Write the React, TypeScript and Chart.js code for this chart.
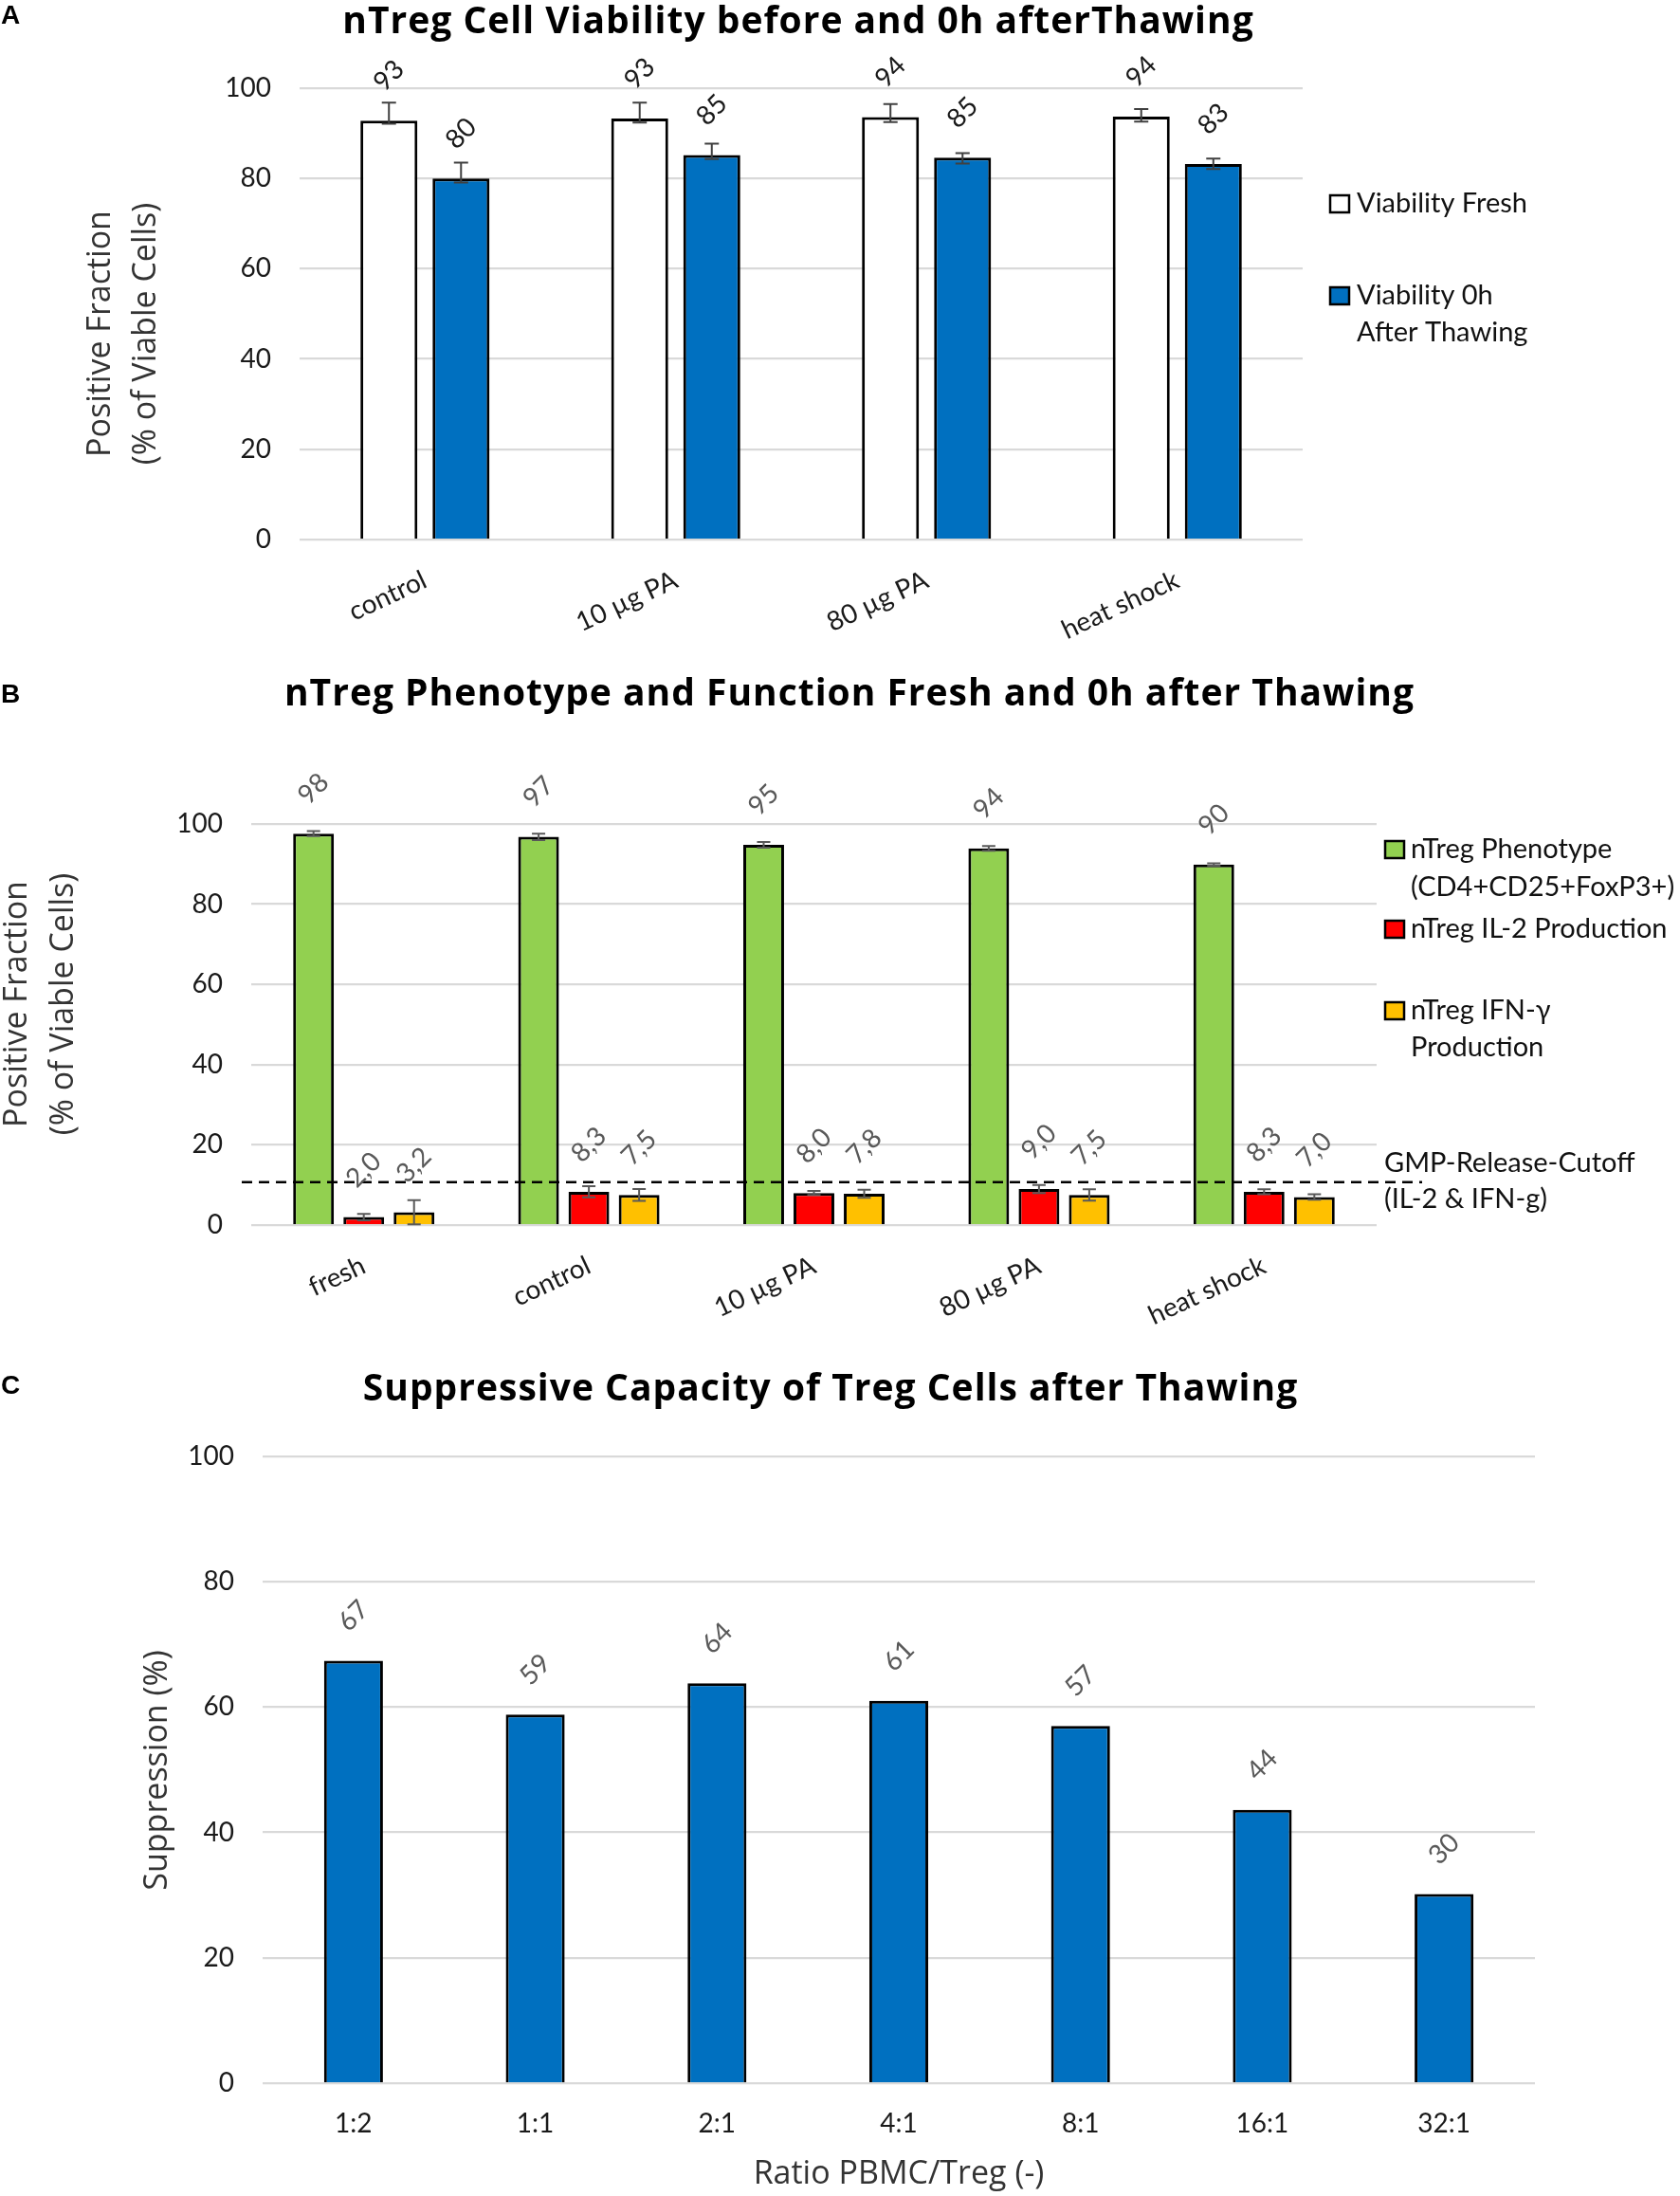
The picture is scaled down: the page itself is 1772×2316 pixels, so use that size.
import React, { useEffect, useRef } from "react";
import { Chart, registerables } from "chart.js";
Chart.register(...registerables);

// ---------- Panel A data ----------
const catsA = ["control", "10 µg PA", "80 µg PA", "heat shock"];
const freshA = [92.8, 93.3, 93.6, 93.7];
const freshErrUpA = [4.0, 3.5, 2.9, 1.7];
const freshErrDnA = [0.7, 0.9, 1.1, 1.1];
const thawA = [80.0, 85.2, 84.6, 83.2];
const thawErrUpA = [3.5, 2.5, 1.0, 1.2];
const thawErrDnA = [0.9, 0.9, 1.3, 1.1];

// ---------- Panel B data ----------
const catsB = ["fresh", "control", "10 µg PA", "80 µg PA", "heat shock"];
const phenoB = [97.6, 96.8, 94.8, 93.9, 89.9];
const phenoErrB = [0.6, 0.8, 0.7, 0.6, 0.3];
const il2B = [2.0, 8.3, 8.0, 9.0, 8.3];
const il2ErrB = [0.8, 1.4, 0.5, 1.0, 0.6];
const ifnB = [3.2, 7.5, 7.8, 7.5, 7.0];
const ifnErrB = [3.0, 1.5, 1.0, 1.4, 0.7];
const cutoffB = 10.7;

// ---------- Panel C data ----------
const catsC = ["1:2", "1:1", "2:1", "4:1", "8:1", "16:1", "32:1"];
const suppC = [67.4, 58.8, 63.8, 61.0, 57.0, 43.6, 30.2];

const yTicks = [0, 20, 40, 60, 80, 100];

const TICK_FONT = "Lato";
const TITLE_FONT = "'Open Sans'";
const BLUE = "#0070C0";

function makeErrorBars(color: string, width: number, cap: number) {
  return {
    id: "errBars",
    afterDatasetsDraw(chart: any) {
      const ctx = chart.ctx;
      const ys = chart.scales.y;
      chart.data.datasets.forEach((ds: any, i: number) => {
        if (!ds.errUp) return;
        const meta = chart.getDatasetMeta(i);
        meta.data.forEach((el: any, j: number) => {
          const v = ds.data[j];
          const yT = ys.getPixelForValue(v + ds.errUp[j]);
          const yB = ys.getPixelForValue(v - ds.errDn[j]);
          ctx.save();
          ctx.strokeStyle = color;
          ctx.lineWidth = width;
          ctx.beginPath();
          ctx.moveTo(el.x, yT);
          ctx.lineTo(el.x, yB);
          ctx.moveTo(el.x - cap, yT);
          ctx.lineTo(el.x + cap, yT);
          ctx.moveTo(el.x - cap, yB);
          ctx.lineTo(el.x + cap, yB);
          ctx.stroke();
          ctx.restore();
        });
      });
    },
  };
}

function makeLabels(color: string, size: number, gap: number) {
  return {
    id: "valLabels",
    afterDatasetsDraw(chart: any) {
      const ctx = chart.ctx;
      chart.data.datasets.forEach((ds: any, i: number) => {
        const meta = chart.getDatasetMeta(i);
        const dec = ds.decimals || 0;
        meta.data.forEach((el: any, j: number) => {
          const text = Number(ds.data[j]).toFixed(dec).replace(".", ",");
          ctx.save();
          ctx.font = `${size}px ${TICK_FONT}`;
          const w = ctx.measureText(text).width;
          const boxH = (w + size * 1.2) / Math.SQRT2;
          ctx.translate(el.x, el.y - gap - boxH / 2);
          ctx.rotate(-Math.PI / 4);
          ctx.fillStyle = color;
          ctx.textAlign = "center";
          ctx.textBaseline = "middle";
          ctx.fillText(text, 0, 0);
          ctx.restore();
        });
      });
    },
  };
}

function vText(ctx: any, text: string, x: number, y: number, font: string, color: string) {
  ctx.save();
  ctx.translate(x, y);
  ctx.rotate(-Math.PI / 2);
  ctx.font = font;
  ctx.fillStyle = color;
  ctx.textAlign = "center";
  ctx.textBaseline = "middle";
  ctx.fillText(text, 0, 0);
  ctx.restore();
}

function hText(ctx: any, text: string, x: number, y: number, font: string, color: string, align = "left") {
  ctx.save();
  ctx.font = font;
  ctx.fillStyle = color;
  ctx.textAlign = align;
  ctx.textBaseline = "middle";
  ctx.fillText(text, x, y);
  ctx.restore();
}

function legBox(ctx: any, x: number, yMid: number, color: string) {
  ctx.save();
  ctx.fillStyle = color;
  ctx.fillRect(x, yMid - 9, 20, 18);
  ctx.strokeStyle = "#000";
  ctx.lineWidth = 2.5;
  ctx.strokeRect(x, yMid - 9, 20, 18);
  ctx.restore();
}

function scalesFor(cats: any, opts: any) {
  return {
    x: {
      type: "category",
      grid: { display: false, drawTicks: false },
      border: { display: false },
      ticks: {
        color: "#1a1a1a",
        font: { family: TICK_FONT, size: opts.xSize },
        minRotation: opts.rot,
        maxRotation: opts.rot,
        autoSkip: false,
        padding: opts.xPad,
      },
      afterFit(s: any) {
        s.height = opts.xH;
      },
    },
    y: {
      min: 0,
      max: 100,
      grid: { color: "#D9D9D9", lineWidth: 2.2, drawTicks: false },
      border: { display: false },
      afterBuildTicks(s: any) {
        s.ticks = yTicks.map((v) => ({ value: v }));
      },
      ticks: {
        color: "#1a1a1a",
        font: { family: TICK_FONT, size: 28 },
        padding: 30,
      },
      afterFit(s: any) {
        s.width = opts.yW;
      },
    },
  };
}

function ChartCanvas({ top, height, config }: any) {
  const ref = useRef<HTMLCanvasElement>(null);
  useEffect(() => {
    const chart = new Chart(ref.current as any, config);
    return () => chart.destroy();
  }, []);
  return (
    <canvas
      ref={ref}
      width={1772}
      height={height}
      style={{ position: "absolute", left: 0, top, width: 1772, height }}
    />
  );
}

const axisTitleFont = `34px ${TITLE_FONT}`;
const legendFont = `29px ${TICK_FONT}`;

const configA: any = {
  type: "bar",
  data: {
    labels: catsA,
    datasets: [
      {
        label: "Viability Fresh",
        data: freshA,
        errUp: freshErrUpA,
        errDn: freshErrDnA,
        backgroundColor: "#FFFFFF",
        borderColor: "#000",
        borderWidth: 3,
      },
      {
        label: "Viability 0h After Thawing",
        data: thawA,
        errUp: thawErrUpA,
        errDn: thawErrDnA,
        backgroundColor: BLUE,
        borderColor: "#000",
        borderWidth: 3,
      },
    ],
  },
  options: {
    responsive: false,
    animation: false,
    categoryPercentage: 0.575,
    barPercentage: 0.79,
    layout: { padding: { left: 0, right: 398, top: 93, bottom: 0 } },
    plugins: { legend: { display: false }, tooltip: { enabled: false } },
    scales: scalesFor(catsA, { xSize: 28, rot: 25, xPad: 26, xH: 111, yW: 316 }),
  },
  plugins: [
    makeErrorBars("#404040", 2, 7.5),
    makeLabels("#1a1a1a", 28, 24),
    {
      id: "decorA",
      afterDraw(chart: any) {
        const ctx = chart.ctx;
        vText(ctx, "Positive Fraction", 106, 352, axisTitleFont, "#333");
        vText(ctx, "(% of Viable Cells)", 154, 352, axisTitleFont, "#333");
        legBox(ctx, 1403, 215, "#FFFFFF");
        hText(ctx, "Viability Fresh", 1431, 215, legendFont, "#111");
        legBox(ctx, 1403, 312, BLUE);
        hText(ctx, "Viability 0h", 1431, 312, legendFont, "#111");
        hText(ctx, "After Thawing", 1431, 351, legendFont, "#111");
      },
    },
  ],
};

const configB: any = {
  type: "bar",
  data: {
    labels: catsB,
    datasets: [
      {
        label: "nTreg Phenotype (CD4+CD25+FoxP3+)",
        data: phenoB,
        errUp: phenoErrB,
        errDn: phenoErrB,
        decimals: 0,
        backgroundColor: "#92D050",
        borderColor: "#000",
        borderWidth: 3,
      },
      {
        label: "nTreg IL-2 Production",
        data: il2B,
        errUp: il2ErrB,
        errDn: il2ErrB,
        decimals: 1,
        backgroundColor: "#FF0000",
        borderColor: "#000",
        borderWidth: 3,
      },
      {
        label: "nTreg IFN-γ Production",
        data: ifnB,
        errUp: ifnErrB,
        errDn: ifnErrB,
        decimals: 1,
        backgroundColor: "#FFC000",
        borderColor: "#000",
        borderWidth: 3,
      },
    ],
  },
  options: {
    responsive: false,
    animation: false,
    categoryPercentage: 0.67,
    barPercentage: 0.81,
    layout: { padding: { left: 0, right: 320, top: 189, bottom: 0 } },
    plugins: { legend: { display: false }, tooltip: { enabled: false } },
    scales: scalesFor(catsB, { xSize: 28, rot: 25, xPad: 26, xH: 128, yW: 265 }),
  },
  plugins: [
    {
      id: "cutoff",
      afterDatasetsDraw(chart: any) {
        const ctx = chart.ctx;
        const y = chart.scales.y.getPixelForValue(cutoffB);
        ctx.save();
        ctx.strokeStyle = "#000";
        ctx.lineWidth = 2.5;
        ctx.setLineDash([11, 7]);
        ctx.beginPath();
        ctx.moveTo(chart.chartArea.left - 10, y);
        ctx.lineTo(chart.chartArea.right + 48, y);
        ctx.stroke();
        ctx.restore();
      },
    },
    makeErrorBars("#595959", 2, 7),
    makeLabels("#595959", 28, 24),
    {
      id: "decorB",
      afterDraw(chart: any) {
        const ctx = chart.ctx;
        vText(ctx, "Positive Fraction", 18, 379, axisTitleFont, "#333");
        vText(ctx, "(% of Viable Cells)", 67, 379, axisTitleFont, "#333");
        legBox(ctx, 1461, 216, "#92D050");
        hText(ctx, "nTreg Phenotype", 1488, 216, legendFont, "#111");
        hText(ctx, "(CD4+CD25+FoxP3+)", 1488, 256, legendFont, "#111");
        legBox(ctx, 1461, 300, "#FF0000");
        hText(ctx, "nTreg IL-2 Production", 1488, 300, legendFont, "#111");
        legBox(ctx, 1461, 386, "#FFC000");
        hText(ctx, "nTreg IFN-γ", 1488, 386, legendFont, "#111");
        hText(ctx, "Production", 1488, 425, legendFont, "#111");
        hText(ctx, "GMP-Release-Cutoff", 1460, 547, legendFont, "#111");
        hText(ctx, "(IL-2 & IFN-g)", 1460, 585, legendFont, "#111");
      },
    },
  ],
};

const configC: any = {
  type: "bar",
  data: {
    labels: catsC,
    datasets: [
      {
        label: "Suppression",
        data: suppC,
        decimals: 0,
        backgroundColor: BLUE,
        borderColor: "#000",
        borderWidth: 3,
      },
    ],
  },
  options: {
    responsive: false,
    animation: false,
    categoryPercentage: 0.4,
    barPercentage: 0.81,
    layout: { padding: { left: 0, right: 153, top: 116, bottom: 0 } },
    plugins: { legend: { display: false }, tooltip: { enabled: false } },
    scales: scalesFor(catsC, { xSize: 28, rot: 0, xPad: 26, xH: 119, yW: 277 }),
  },
  plugins: [
    makeLabels("#595959", 28, 24),
    {
      id: "decorC",
      afterDraw(chart: any) {
        const ctx = chart.ctx;
        vText(ctx, "Suppression (%)", 166, 447, axisTitleFont, "#333");
        hText(ctx, "Ratio PBMC/Treg (-)", 948, 873, axisTitleFont, "#333", "center");
      },
    },
  ],
};

function Title({ text, cx, top }: any) {
  return (
    <div
      style={{
        position: "absolute",
        left: cx - 800,
        width: 1600,
        top,
        textAlign: "center",
        fontFamily: "'Open Sans'",
        fontWeight: 700,
        fontSize: 39,
        letterSpacing: "1px",
        lineHeight: "40px",
        color: "#000",
        whiteSpace: "nowrap",
      }}
    >
      {text}
    </div>
  );
}

function Letter({ text, top }: any) {
  return (
    <div
      style={{
        position: "absolute",
        left: 1,
        top,
        fontFamily: "'Liberation Sans', Arial, sans-serif",
        fontWeight: 700,
        fontSize: 28,
        lineHeight: "28px",
        color: "#000",
      }}
    >
      {text}
    </div>
  );
}

export default function App() {
  return (
    <div
      style={{
        position: "absolute",
        left: 0,
        top: 0,
        width: 1772,
        height: 2316,
        background: "#fff",
        overflow: "hidden",
      }}
    >
      <ChartCanvas top={0} height={680} config={configA} />
      <ChartCanvas top={680} height={740} config={configB} />
      <ChartCanvas top={1420} height={896} config={configC} />
      <Letter text="A" top={2} />
      <Letter text="B" top={718} />
      <Letter text="C" top={1447} />
      <Title text="nTreg Cell Viability before and 0h afterThawing" cx={842} top={0} />
      <Title text="nTreg Phenotype and Function Fresh and 0h after Thawing" cx={896} top={709} />
      <Title text="Suppressive Capacity of Treg Cells after Thawing" cx={876} top={1442} />
    </div>
  );
}
